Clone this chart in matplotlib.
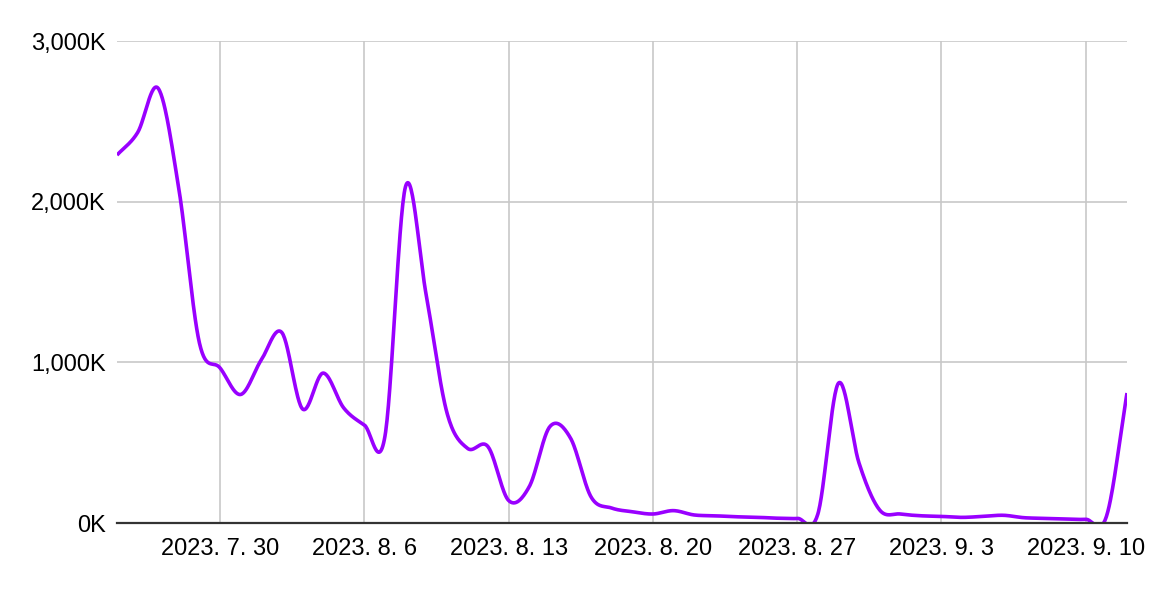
import matplotlib
matplotlib.use('Agg')
import matplotlib.pyplot as plt
import matplotlib.dates as mdates
from matplotlib.ticker import FuncFormatter, FixedLocator
import numpy as np
import datetime as dt

# --- Donnees (valeurs journalieres, en milliers) ---
start = dt.date(2023, 7, 25)
values_k = [2290, 2430, 2705, 2080, 1120, 965, 800, 1015, 1185, 710,
            933, 716, 610, 540, 2095, 1420, 690, 465, 475, 140,
            226, 600, 529, 162, 93, 70, 56, 77, 50, 45,
            39, 36, 30, 29, 55, 870, 373, 81, 56, 45,
            41, 35, 41, 48, 33, 29, 25, 23, 40, 809]
dates = [start + dt.timedelta(days=i) for i in range(len(values_k))]

tick_dates = [dt.date(2023, 7, 30), dt.date(2023, 8, 6), dt.date(2023, 8, 13),
              dt.date(2023, 8, 20), dt.date(2023, 8, 27), dt.date(2023, 9, 3),
              dt.date(2023, 9, 10)]
tick_labels = ['2023. 7. 30', '2023. 8. 6', '2023. 8. 13', '2023. 8. 20',
               '2023. 8. 27', '2023. 9. 3', '2023. 9. 10']
y_ticks = [0, 1000, 2000, 3000]

LINE_COLOR = '#9900ff'


def lissage(x, y, n=30):
    # courbe lissee type Catmull-Rom (comme curveType 'function')
    x = np.asarray(x, float)
    y = np.asarray(y, float)
    m = np.zeros_like(y)
    m[1:-1] = (y[2:] - y[:-2]) / 2
    m[0] = y[1] - y[0]
    m[-1] = y[-1] - y[-2]
    xs, ys = [], []
    for i in range(len(x) - 1):
        t = np.linspace(0, 1, n, endpoint=False)
        h00 = 2 * t**3 - 3 * t**2 + 1
        h10 = t**3 - 2 * t**2 + t
        h01 = -2 * t**3 + 3 * t**2
        h11 = t**3 - t**2
        xs.append(x[i] + t * (x[i + 1] - x[i]))
        ys.append(h00 * y[i] + h10 * m[i] + h01 * y[i + 1] + h11 * m[i + 1])
    xs.append([x[-1]])
    ys.append([y[-1]])
    return np.concatenate(xs), np.concatenate(ys)


plt.rcParams['font.family'] = ['Liberation Sans', 'DejaVu Sans']

fig = plt.figure(figsize=(11.56, 5.90), dpi=100)
ax = fig.add_axes([117 / 1156, 1 - 523 / 590, (1127 - 117) / 1156, (523 - 41) / 590])

xnum = mdates.date2num(dates)
xs, ys = lissage(xnum, values_k)
ax.plot(xs, ys, color=LINE_COLOR, linewidth=2.6, solid_capstyle='butt', zorder=3)

ax.set_xlim(xnum[0], xnum[-1])
ax.set_ylim(0, 3000)

ax.xaxis.set_major_locator(FixedLocator(mdates.date2num(tick_dates)))
ax.set_xticklabels(tick_labels)
ax.yaxis.set_major_locator(FixedLocator(y_ticks))
ax.yaxis.set_major_formatter(FuncFormatter(lambda v, p: f'{int(v):,}K'))

ax.grid(True, color='#c8c8c8', linewidth=1.2, zorder=0)
for s in ['top', 'right', 'left']:
    ax.spines[s].set_visible(False)
ax.spines['bottom'].set_color('#333333')
ax.spines['bottom'].set_linewidth(1.6)
ax.spines['bottom'].set_zorder(4)

ax.tick_params(axis='both', length=0, labelsize=17, colors='#000000')
ax.tick_params(axis='x', pad=11)
ax.tick_params(axis='y', pad=8)

fig.savefig('out.png', dpi=100, facecolor='white')
